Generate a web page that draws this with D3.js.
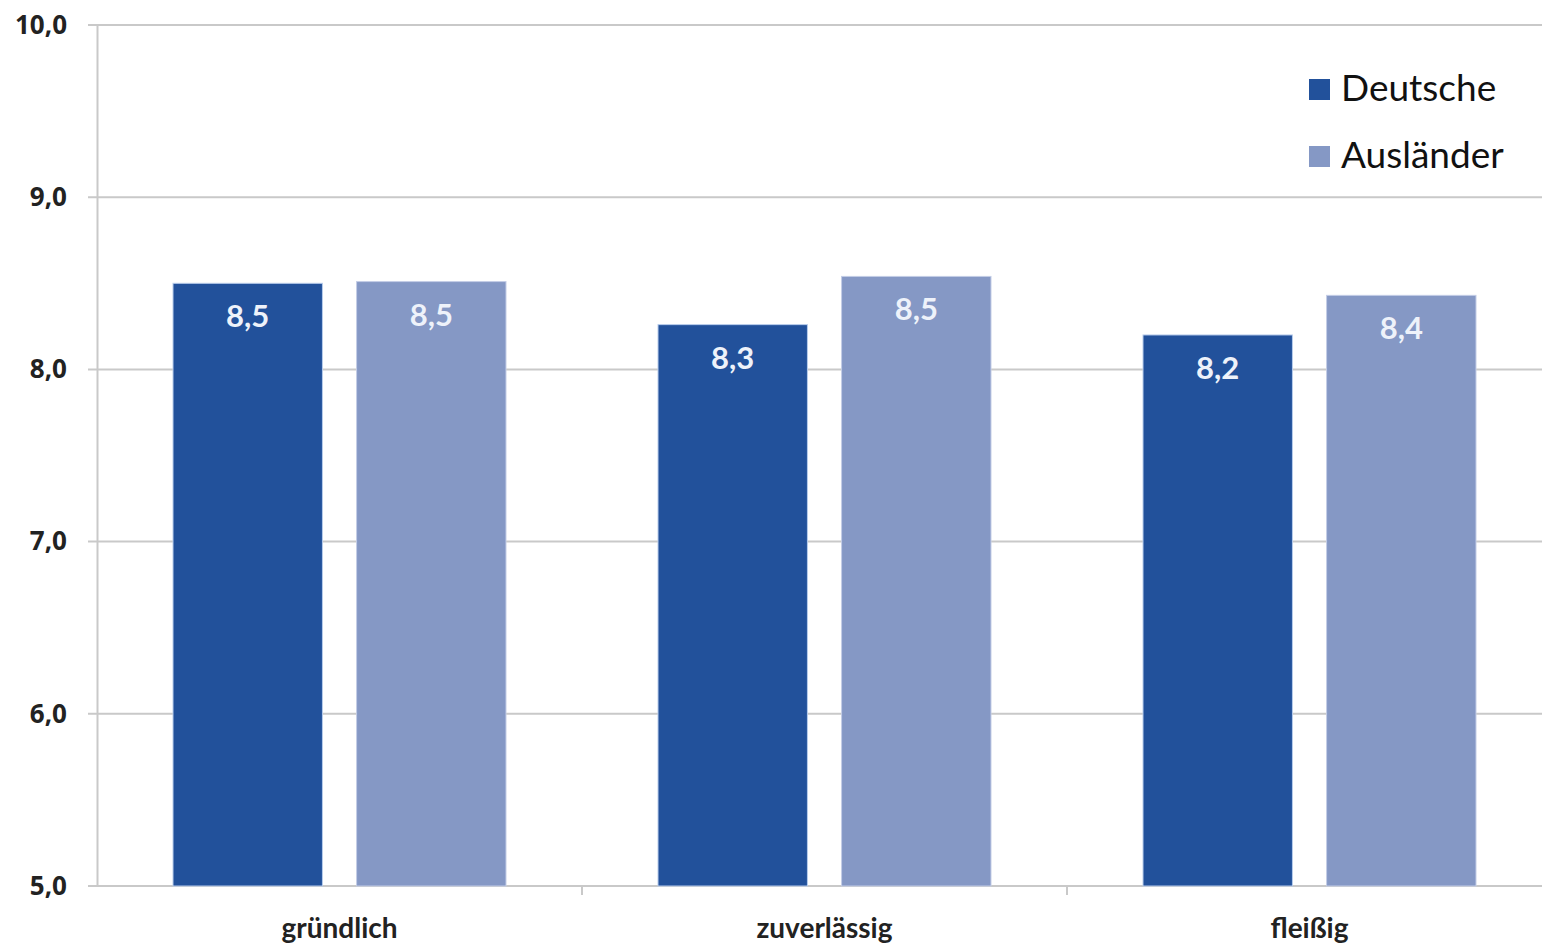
<!DOCTYPE html>
<html>
<head>
<meta charset="utf-8">
<script src="https://cdn.jsdelivr.net/npm/d3@7"></script>
<style>
  html, body { margin: 0; padding: 0; background: #fff; }
  svg { display: block; font-family: Lato, "Open Sans", sans-serif; }
</style>
</head>
<body>
<div id="chart"></div>
<script>
// data
const categories = ["gründlich", "zuverlässig", "fleißig"];
const seriesNames = ["Deutsche", "Ausländer"];
const deutscheValues = [8.50, 8.26, 8.20];
const auslaenderValues = [8.51, 8.54, 8.43];
const valueLabels = [["8,5", "8,3", "8,2"], ["8,5", "8,5", "8,4"]];
const yTicks = [5, 6, 7, 8, 9, 10];
const colors = ["#22519b", "#8598c5"];

const W = 1542, H = 944;
const margin = {top: 25, right: -10, bottom: 58, left: 97},
    width = W - margin.left - margin.right,
    height = H - margin.top - margin.bottom;

const de = d3.formatLocale({decimal: ",", thousands: ".", grouping: [3], currency: ["", "€"]});
const fmt = de.format(".1f");

const svg = d3.select("#chart")
  .append("svg")
  .attr("width", W)
  .attr("height", H)
  .append("g")
  .attr("transform", `translate(${margin.left},${margin.top})`);

const y = d3.scaleLinear().domain([5, 10]).range([height, 0]);
const x0 = d3.scaleBand().domain(categories).range([0, width]);
const x1 = d3.scaleBand().domain(seriesNames).range([76, 409]).paddingInner(0.186);

// gridlines
svg.append("g")
  .selectAll("line")
  .data(yTicks)
  .join("line")
    .attr("x1", -9)
    .attr("x2", width)
    .attr("y1", d => y(d))
    .attr("y2", d => y(d))
    .attr("stroke", "#c9c9c9")
    .attr("stroke-width", 2);

// y axis
const yAxis = svg.append("g")
  .call(d3.axisLeft(y).tickValues(yTicks).tickFormat(fmt).tickSize(0).tickPadding(30));
yAxis.select(".domain").attr("stroke", "#c9c9c9").attr("stroke-width", 2);
yAxis.selectAll("text")
  .style("font-family", "'Open Sans', sans-serif")
  .style("font-size", "26px")
  .style("font-weight", "bold")
  .attr("fill", "#222");

// x axis ticks between categories
svg.append("g")
  .selectAll("line")
  .data(categories.slice(1))
  .join("line")
    .attr("x1", d => x0(d))
    .attr("x2", d => x0(d))
    .attr("y1", height)
    .attr("y2", height + 9)
    .attr("stroke", "#c9c9c9")
    .attr("stroke-width", 2);

svg.append("g")
  .selectAll("text")
  .data(categories)
  .join("text")
    .attr("x", d => x0(d) + x0.bandwidth() / 2)
    .attr("y", height + 52)
    .attr("text-anchor", "middle")
    .style("font-size", "28px")
    .style("font-weight", "bold")
    .attr("fill", "#222")
    .text(d => d);

// bars
const rows = [];
categories.forEach((c, i) => {
  rows.push({cat: c, s: 0, v: deutscheValues[i], label: valueLabels[0][i]});
  rows.push({cat: c, s: 1, v: auslaenderValues[i], label: valueLabels[1][i]});
});

svg.append("g")
  .selectAll("rect")
  .data(rows)
  .join("rect")
    .attr("x", d => x0(d.cat) + x1(seriesNames[d.s]))
    .attr("y", d => y(d.v))
    .attr("width", x1.bandwidth())
    .attr("height", d => height - y(d.v))
    .attr("fill", d => colors[d.s])
    .attr("stroke", d => d.s === 0 ? "#b9cdec" : "#c3cde6")
    .attr("stroke-width", 1);

svg.append("g")
  .selectAll("text")
  .data(rows)
  .join("text")
    .attr("x", d => x0(d.cat) + x1(seriesNames[d.s]) + x1.bandwidth() / 2)
    .attr("y", d => y(d.v) + 44)
    .attr("text-anchor", "middle")
    .style("font-size", "31px")
    .style("font-weight", "bold")
    .attr("fill", "#eef2fa")
    .text(d => d.label);

// legend
const legend = svg.append("g")
  .attr("transform", `translate(${1309 - margin.left},${79 - margin.top})`);
seriesNames.forEach((s, i) => {
  legend.append("rect")
    .attr("x", 0)
    .attr("y", i * 67)
    .attr("width", 21)
    .attr("height", 21)
    .attr("fill", colors[i]);
  legend.append("text")
    .attr("x", 32)
    .attr("y", i * 67 + 22)
    .style("font-size", "37px")
    .attr("fill", "#111")
    .text(s);
});
</script>
</body>
</html>
